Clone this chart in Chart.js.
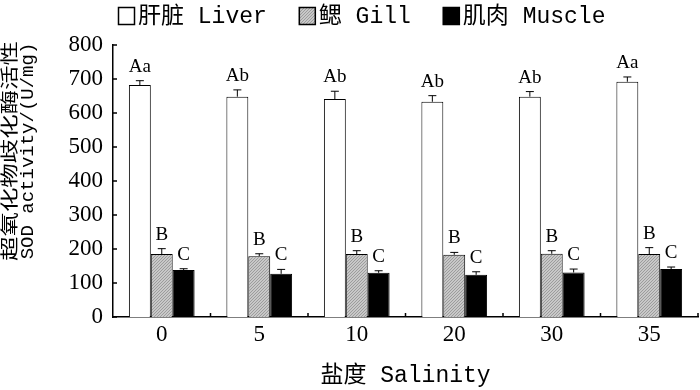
<!DOCTYPE html>
<html>
<head>
<meta charset="utf-8">
<script src="https://cdn.jsdelivr.net/npm/chart.js@4.4.0/dist/chart.umd.min.js"></script>
<style>
  body { margin: 0; background: #fff; }
  #wrap { width: 700px; height: 390px; }
</style>
</head>
<body>
<div id="wrap"><canvas id="grafica" width="700" height="390"></canvas></div>
<script>
const salinity = ['0', '5', '10', '20', '30', '35'];
const seriesNames = ['肝脏 Liver', '鳃 Gill', '肌肉 Muscle'];

const liver = [682, 648, 641, 633, 648, 692];
const liverErr = [13, 20, 23, 18, 15, 14];
const liverSig = ['Aa', 'Ab', 'Ab', 'Ab', 'Ab', 'Aa'];

const gill = [185, 179, 185, 183, 186, 185];
const gillErr = [16, 7, 10, 7, 9, 19];
const gillSig = ['B', 'B', 'B', 'B', 'B', 'B'];

const muscle = [138, 127, 130, 124, 131, 141];
const muscleErr = [4, 13, 6, 9, 10, 6];
const muscleSig = ['C', 'C', 'C', 'C', 'C', 'C'];

const yTicks = [0, 100, 200, 300, 400, 500, 600, 700, 800];

const monoFont = "'Liberation Mono', 'Noto Sans CJK SC', monospace";
const serifFont = "'Liberation Serif', serif";

// grey hatch for the gill bars
function hatchPattern() {
    const c = document.createElement('canvas');
    c.width = 3; c.height = 3;
    const g = c.getContext('2d');
    g.fillStyle = '#c8c8c8';
    g.fillRect(0, 0, 3, 3);
    g.fillStyle = '#9c9c9c';
    for (let i = 0; i < 3; i++) g.fillRect(i, 2 - i, 1, 1);
    return g.createPattern(c, 'repeat');
}

const errorBars = {
    id: 'errorBars',
    afterDatasetsDraw(chart) {
        const ctx = chart.ctx;
        const y = chart.scales.y;
        ctx.save();
        chart.data.datasets.forEach((ds, di) => {
            const meta = chart.getDatasetMeta(di);
            meta.data.forEach((bar, i) => {
                const top = y.getPixelForValue(ds.data[i] + ds.err[i]);
                ctx.strokeStyle = '#000';
                ctx.lineWidth = 1;
                ctx.beginPath();
                ctx.moveTo(bar.x, bar.y);
                ctx.lineTo(bar.x, top);
                ctx.moveTo(bar.x - 4, top);
                ctx.lineTo(bar.x + 4, top);
                ctx.stroke();
                ctx.fillStyle = '#000';
                ctx.font = '19px ' + serifFont;
                ctx.textAlign = 'center';
                ctx.textBaseline = 'alphabetic';
                ctx.fillText(ds.sig[i], bar.x, top - 9);
            });
        });
        ctx.restore();
    },
    afterDraw(chart) {
        const ctx = chart.ctx;
        const x = chart.scales.x;
        const y = chart.scales.y;
        const area = chart.chartArea;
        ctx.save();
        ctx.strokeStyle = '#000';
        ctx.lineWidth = 1.5;
        ctx.beginPath();
        // inner ticks on the y axis
        yTicks.forEach(v => {
            const py = y.getPixelForValue(v);
            ctx.moveTo(area.left, py);
            ctx.lineTo(area.left + 4, py);
        });
        // inner ticks between groups on the x axis
        for (let i = 0; i < salinity.length - 1; i++) {
            const px = (x.getPixelForValue(i) + x.getPixelForValue(i + 1)) / 2;
            ctx.moveTo(px, area.bottom);
            ctx.lineTo(px, area.bottom - 4);
        }
        ctx.moveTo(area.right, area.bottom);
        ctx.lineTo(area.right, area.bottom - 4);
        ctx.stroke();

        // legend
        ctx.font = '23px ' + monoFont;
        ctx.textBaseline = 'middle';
        ctx.textAlign = 'left';
        let lx = 118;
        chart.data.datasets.forEach(ds => {
            ctx.fillStyle = ds.backgroundColor;
            ctx.fillRect(lx, 7, 17, 18);
            ctx.lineWidth = 1.5;
            ctx.strokeStyle = '#000';
            ctx.strokeRect(lx + 0.5, 7.5, 16, 17);
            ctx.fillStyle = '#000';
            ctx.fillText(ds.label, lx + 20, 17);
            lx += 20 + ctx.measureText(ds.label).width + 32;
        });

        // y axis title, two rotated lines
        ctx.save();
        ctx.translate(9, 151);
        ctx.rotate(-Math.PI / 2);
        ctx.font = '18px "Noto Sans CJK SC"';
        ctx.textAlign = 'center';
        ctx.textBaseline = 'middle';
        const t1 = '超氧化物歧化酶活性';
        const w1 = ctx.measureText(t1).width;
        ctx.scale(220 / w1, 1);
        ctx.fillText(t1, 0, 0);
        ctx.restore();

        ctx.save();
        ctx.translate(28, 151);
        ctx.rotate(-Math.PI / 2);
        ctx.font = '19px ' + monoFont;
        ctx.textAlign = 'center';
        ctx.textBaseline = 'middle';
        ctx.fillText('SOD activity/(U/mg)', 0, 0);
        ctx.restore();

        ctx.restore();
    }
};

const ctx = document.getElementById('grafica').getContext('2d');
new Chart(ctx, {
    type: 'bar',
    data: {
        labels: salinity,
        datasets: [
            { label: seriesNames[0], data: liver, err: liverErr, sig: liverSig,
              backgroundColor: '#ffffff', borderColor: '#000', borderWidth: 1 },
            { label: seriesNames[1], data: gill, err: gillErr, sig: gillSig,
              backgroundColor: hatchPattern(), borderColor: '#000', borderWidth: 1 },
            { label: seriesNames[2], data: muscle, err: muscleErr, sig: muscleSig,
              backgroundColor: '#000000', borderColor: '#000', borderWidth: 1 }
        ]
    },
    options: {
        responsive: false,
        animation: false,
        layout: { padding: { top: 45, right: 2, left: 0, bottom: 0 } },
        datasets: { bar: { categoryPercentage: 0.674, barPercentage: 1 } },
        plugins: {
            legend: { display: false },
            tooltip: { enabled: false },
            title: { display: false }
        },
        scales: {
            x: {
                grid: { display: false, drawTicks: false },
                border: { display: true, color: '#000', width: 1.5 },
                ticks: { color: '#000', font: { family: serifFont, size: 23 }, padding: 4 },
                title: {
                    display: true,
                    text: '盐度 Salinity',
                    color: '#000',
                    font: { family: monoFont, size: 23 },
                    padding: { top: 0, bottom: 0 }
                },
                afterFit(scale) { scale.height = 73; }
            },
            y: {
                min: 0,
                max: 800,
                grid: { display: false, drawTicks: false },
                border: { display: true, color: '#000', width: 1.5 },
                ticks: {
                    color: '#000',
                    stepSize: 100,
                    padding: 10,
                    font: { family: serifFont, size: 23 }
                },
                afterFit(scale) { scale.width = 113; }
            }
        }
    },
    plugins: [errorBars]
});
</script>
</body>
</html>
